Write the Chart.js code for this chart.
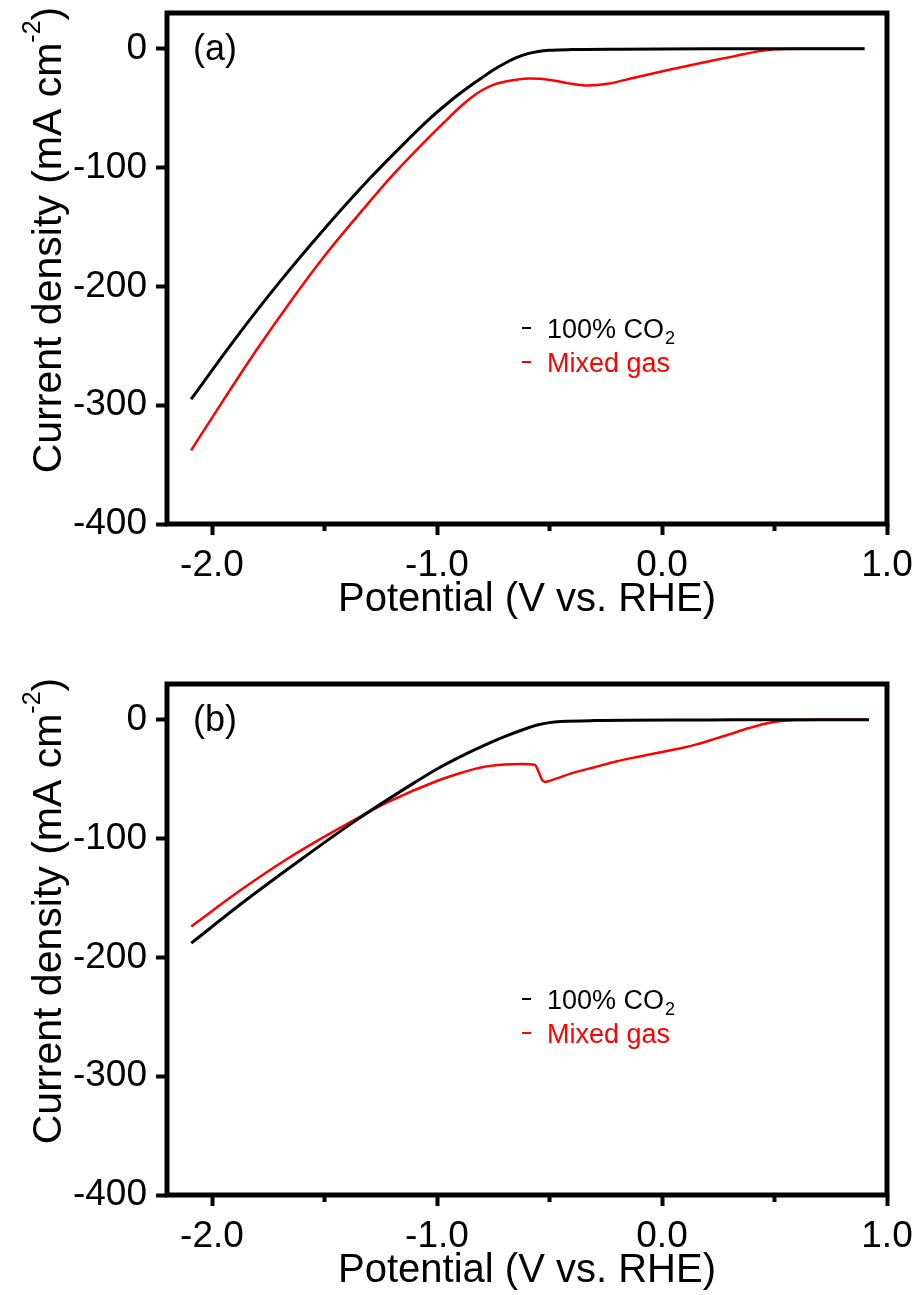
<!DOCTYPE html>
<html>
<head>
<meta charset="utf-8">
<script src="https://cdn.jsdelivr.net/npm/chart.js@4.4.0/dist/chart.umd.min.js"></script>
<style>
  body { margin: 0; background: #fff; }
  canvas { position: absolute; left: 0; }
  #chart-a { top: 0; }
  #chart-b { top: 671px; }
</style>
</head>
<body>
<canvas id="chart-a" width="920" height="624"></canvas>
<canvas id="chart-b" width="920" height="624"></canvas>
<script>
// Panel (a) - potential (V vs RHE) / current density (mA cm-2)
const potA_co2 = [-2.093, -1.9, -1.7, -1.5, -1.3, -1.15, -1.037, -0.95, -0.9, -0.85, -0.8, -0.75, -0.7, -0.65, -0.6, -0.55, -0.5, -0.4, -0.2, 0.2, 0.9];
const curA_co2 = [-295, -245, -196.5, -151.5, -109.5, -80.5, -59.7, -45.5, -38, -31, -24.5, -18, -12.5, -7.8, -4.4, -2.4, -1.4, -0.8, -0.4, -0.1, 0];

const potA_mix = [-2.093, -1.95, -1.8, -1.65, -1.5, -1.35, -1.2, -1.06, -0.956, -0.9, -0.85, -0.8, -0.75, -0.7, -0.65, -0.59, -0.53, -0.49, -0.42, -0.33, -0.24, -0.124, 0.027, 0.173, 0.319, 0.42, 0.5, 0.6, 0.9];
const curA_mix = [-338, -296, -253, -212.5, -174.5, -140, -107, -79.2, -59.7, -49.5, -41.5, -35, -30.5, -27.8, -26.2, -25.2, -25.5, -26.5, -29, -31, -29.5, -24.5, -18, -12, -6.5, -2.5, -0.6, 0, 0];

// Panel (b)
const potB_co2 = [-2.092, -1.85, -1.6, -1.35, -1.1, -1.0, -0.9, -0.8, -0.7, -0.6, -0.55, -0.5, -0.45, -0.3, 0.2, 0.53, 0.92];
const curB_co2 = [-188, -152, -117, -83.5, -53, -41.5, -31.5, -22.5, -14.3, -7.2, -4.3, -2.5, -1.6, -0.8, -0.3, 0, 0];

const potB_mix = [-2.092, -1.877, -1.656, -1.435, -1.214, -0.992, -0.88, -0.8, -0.7, -0.62, -0.566, -0.548, -0.535, -0.52, -0.5, -0.46, -0.4, -0.3, -0.2, -0.1, 0, 0.084, 0.158, 0.231, 0.305, 0.38, 0.453, 0.53, 0.6, 0.7, 0.916];
const curB_mix = [-174, -144, -116, -91.5, -69, -51, -44, -40, -37.8, -37.3, -38, -44, -50, -52.5, -51.5, -49, -45, -40, -35, -31, -27.2, -24, -20.6, -16.4, -12, -7.5, -3.6, -1.2, -0.3, 0, 0];

const xTicks = [-2, -1, 0, 1];
const xMinorTicks = [-1.5, -0.5, 0.5];
const yTicks = [-400, -300, -200, -100, 0];

const fontFamily = "'Liberation Sans', Arial, sans-serif";

function points(xs, ys) {
  return xs.map((x, i) => ({ x: x, y: ys[i] }));
}

// frame, minor ticks, panel letter, legend, y title
const decoPlugin = {
  id: 'deco',
  afterDraw(chart, args, opts) {
    const ctx = chart.ctx;
    const area = chart.chartArea;
    const xs = chart.scales.x;
    ctx.save();
    ctx.strokeStyle = '#000';
    ctx.lineWidth = 5;
    ctx.strokeRect(area.left, area.top, area.right - area.left, area.bottom - area.top);

    ctx.lineWidth = 4;
    xMinorTicks.forEach(v => {
      const px = xs.getPixelForValue(v);
      ctx.beginPath();
      ctx.moveTo(px, area.bottom);
      ctx.lineTo(px, area.bottom + 7);
      ctx.stroke();
    });

    ctx.fillStyle = '#000';
    ctx.font = '36px ' + fontFamily;
    ctx.textBaseline = 'middle';
    ctx.fillText(opts.letter, area.left + 26, area.top + 37);

    // legend
    const rows = [315, 349];
    chart.data.datasets.forEach((ds, i) => {
      const y = area.top + rows[i];
      ctx.strokeStyle = ds.borderColor;
      ctx.lineWidth = 2;
      ctx.beginPath();
      ctx.moveTo(area.left + 355, y);
      ctx.lineTo(area.left + 364, y);
      ctx.stroke();
      ctx.fillStyle = ds.borderColor;
      ctx.textBaseline = 'alphabetic';
      ctx.font = '27px ' + fontFamily;
      const tx = area.left + 380;
      ctx.fillText(ds.label, tx, y + 10);
      if (ds.sub) {
        const w = ctx.measureText(ds.label).width;
        ctx.font = '18px ' + fontFamily;
        ctx.fillText(ds.sub, tx + w + 1, y + 16);
      }
    });

    // y axis title with superscript
    ctx.fillStyle = '#000';
    ctx.translate(61, 240);
    ctx.rotate(-Math.PI / 2);
    const main = 'Current density (mA cm';
    const sup = '-2';
    const end = ')';
    ctx.font = '41px ' + fontFamily;
    const wMain = ctx.measureText(main).width;
    const wEnd = ctx.measureText(end).width;
    ctx.font = '25px ' + fontFamily;
    const wSup = ctx.measureText(sup).width;
    const x0 = -(wMain + wSup + wEnd) / 2;
    ctx.textBaseline = 'alphabetic';
    ctx.font = '41px ' + fontFamily;
    ctx.fillText(main, x0, 0);
    ctx.font = '25px ' + fontFamily;
    ctx.fillText(sup, x0 + wMain, -21);
    ctx.font = '41px ' + fontFamily;
    ctx.fillText(end, x0 + wMain + wSup, 0);
    ctx.restore();
  }
};

function makeChart(id, letter, co2, mix) {
  return new Chart(document.getElementById(id), {
    type: 'line',
    data: {
      datasets: [{
        label: '100% CO',
        sub: '2',
        data: co2,
        borderColor: '#000000',
        borderWidth: 3,
        pointRadius: 0,
        fill: false,
        cubicInterpolationMode: 'monotone'
      }, {
        label: 'Mixed gas',
        data: mix,
        borderColor: '#ff0000',
        borderWidth: 2.5,
        pointRadius: 0,
        fill: false,
        cubicInterpolationMode: 'monotone'
      }]
    },
    options: {
      responsive: false,
      animation: false,
      devicePixelRatio: 1,
      layout: { padding: { top: 13, right: 33, bottom: 0, left: 0 } },
      plugins: {
        legend: { display: false },
        tooltip: { enabled: false },
        deco: { letter: letter }
      },
      scales: {
        x: {
          type: 'linear',
          min: -2.2,
          max: 1.0,
          border: { display: false },
          grid: { drawOnChartArea: false, drawTicks: true, tickLength: 11, tickWidth: 4, tickColor: '#000' },
          ticks: {
            stepSize: 1,
            includeBounds: false,
            autoSkip: false,
            maxRotation: 0,
            padding: 9,
            color: '#000',
            font: { family: fontFamily, size: 37 },
            callback: v => xTicks.includes(v) ? v.toFixed(1) : ''
          },
          title: {
            display: true,
            text: 'Potential (V vs. RHE)',
            color: '#000',
            font: { family: fontFamily, size: 40 },
            padding: { top: 0, bottom: 0 }
          },
          afterFit: s => { s.height = 100; s.paddingLeft = 0; s.paddingRight = 0; }
        },
        y: {
          type: 'linear',
          min: -400,
          max: 30,
          border: { display: false },
          grid: { drawOnChartArea: false, drawTicks: true, tickLength: 11, tickWidth: 4, tickColor: '#000' },
          ticks: {
            stepSize: 100,
            includeBounds: false,
            padding: 9,
            color: '#000',
            font: { family: fontFamily, size: 37 },
            callback: v => yTicks.includes(v) ? String(v) : ''
          },
          afterFit: s => { s.width = 167; s.paddingTop = 0; s.paddingBottom = 0; }
        }
      }
    },
    plugins: [decoPlugin]
  });
}

makeChart('chart-a', '(a)', points(potA_co2, curA_co2), points(potA_mix, curA_mix));
makeChart('chart-b', '(b)', points(potB_co2, curB_co2), points(potB_mix, curB_mix));
</script>
</body>
</html>
